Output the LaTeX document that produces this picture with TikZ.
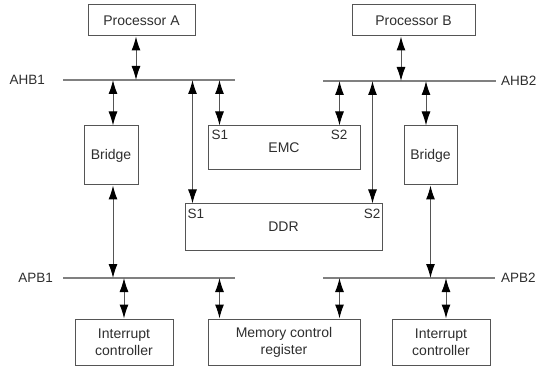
\documentclass[tikz,border=0pt]{standalone}
\usepackage{fontspec}
\setmainfont{Liberation Sans}
\usetikzlibrary{arrows.meta}

\definecolor{boxgray}{HTML}{555555}
\definecolor{busgray}{HTML}{808080}
\definecolor{txtgray}{HTML}{2E2E2E}

\begin{document}
\begin{tikzpicture}[
    x=1pt, y=-1pt,
    block/.style={rectangle, draw=boxgray, line width=1pt, inner sep=0pt, align=center, text=txtgray, font=\fontsize{14}{17}\selectfont},
    port/.style={inner sep=0pt, text=txtgray, font=\fontsize{13.5}{15}\selectfont},
    bus/.style={draw=busgray, line width=1.3pt},
    link/.style={{Latex[length=14pt,width=9pt,black]}-{Latex[length=14pt,width=9pt,black]}, draw=boxgray, line width=1pt}
]
\useasboundingbox (0,0) rectangle (546,366);

% Masters
\node[block, minimum width=107pt, minimum height=31pt] (procA) at (141.5,20.5) {Processor A};
\node[block, minimum width=123pt, minimum height=31pt] (procB) at (413.5,20.5) {Processor B};

% Bridges and memories
\node[block, minimum width=54pt, minimum height=59pt] (bridgeA) at (111,155.5) {Bridge};
\node[block, minimum width=53pt, minimum height=59pt] (bridgeB) at (430.5,155.5) {Bridge};
\node[block, minimum width=152pt, minimum height=44pt] (emc) at (284,148) {EMC};
\node[block, minimum width=197pt, minimum height=46pt] (ddr) at (283.5,227) {DDR};

% Peripherals
\node[block, minimum width=98pt, minimum height=46pt] (intA) at (124,342) {Interrupt\\controller};
\node[block, minimum width=152pt, minimum height=46pt] (memreg) at (284,342) {Memory control\\register};
\node[block, minimum width=98pt, minimum height=46pt] (intB) at (441,342) {Interrupt\\controller};

% Slave ports
\node[port, anchor=north west] (emcS1) at ([shift={(4pt,-4pt)}]emc.north west) {S1};
\node[port, anchor=north east] (emcS2) at ([shift={(-13pt,-4pt)}]emc.north east) {S2};
\node[port, anchor=north west] (ddrS1) at ([shift={(3pt,-5pt)}]ddr.north west) {S1};
\node[port, anchor=north east] (ddrS2) at ([shift={(-2pt,-5pt)}]ddr.north east) {S2};

% Buses
\coordinate (ahb1w) at (63,80);
\coordinate (ahb1e) at (235,80);
\coordinate (ahb2w) at (323,81);
\coordinate (ahb2e) at (496,81);
\coordinate (apb1w) at (63,278);
\coordinate (apb1e) at (235,278);
\coordinate (apb2w) at (323,278);
\coordinate (apb2e) at (495,278);

\draw[bus] (ahb1w) -- (ahb1e);
\draw[bus] (ahb2w) -- (ahb2e);
\draw[bus] (apb1w) -- (apb1e);
\draw[bus] (apb2w) -- (apb2e);

\node[port, anchor=east] (ahb1) at (45,80) {AHB1};
\node[port, anchor=west] (ahb2) at (501,81) {AHB2};
\node[port, anchor=east] (apb1) at (53,278) {APB1};
\node[port, anchor=west] (apb2) at (501,278) {APB2};

% AHB connections
\draw[link] ([xshift=-5.5pt]procA.south) -- ([xshift=-5.5pt]procA.south |- ahb1w);
\draw[link] ([xshift=-12.5pt]procB.south) -- ([xshift=-12.5pt]procB.south |- ahb2w);
\draw[link] ([xshift=2pt]bridgeA.north |- ahb1w) -- ([xshift=2pt]bridgeA.north);
\draw[link] ([xshift=-4.5pt]bridgeB.north |- ahb2w) -- ([xshift=-4.5pt]bridgeB.north);
\draw[link] ([xshift=12pt]emc.north west |- ahb1w) -- ([xshift=12pt]emc.north west);
\draw[link] ([xshift=-21pt]emc.north east |- ahb2w) -- ([xshift=-21pt]emc.north east);
\draw[link] ([xshift=8pt]ddr.north west |- ahb1w) -- ([xshift=8pt]ddr.north west);
\draw[link] ([xshift=-10pt]ddr.north east |- ahb2w) -- ([xshift=-10pt]ddr.north east);

% APB connections
\draw[link] ([xshift=2pt]bridgeA.south) -- ([xshift=2pt]bridgeA.south |- apb1w);
\draw[link] (bridgeB.south) -- (bridgeB.south |- apb2w);
\draw[link] (intA.north |- apb1w) -- (intA.north);
\draw[link] ([xshift=12pt]memreg.north west |- apb1w) -- ([xshift=12pt]memreg.north west);
\draw[link] ([xshift=-21pt]memreg.north east |- apb2w) -- ([xshift=-21pt]memreg.north east);
\draw[link] ([xshift=5pt]intB.north |- apb2w) -- ([xshift=5pt]intB.north);

\end{tikzpicture}
\end{document}
